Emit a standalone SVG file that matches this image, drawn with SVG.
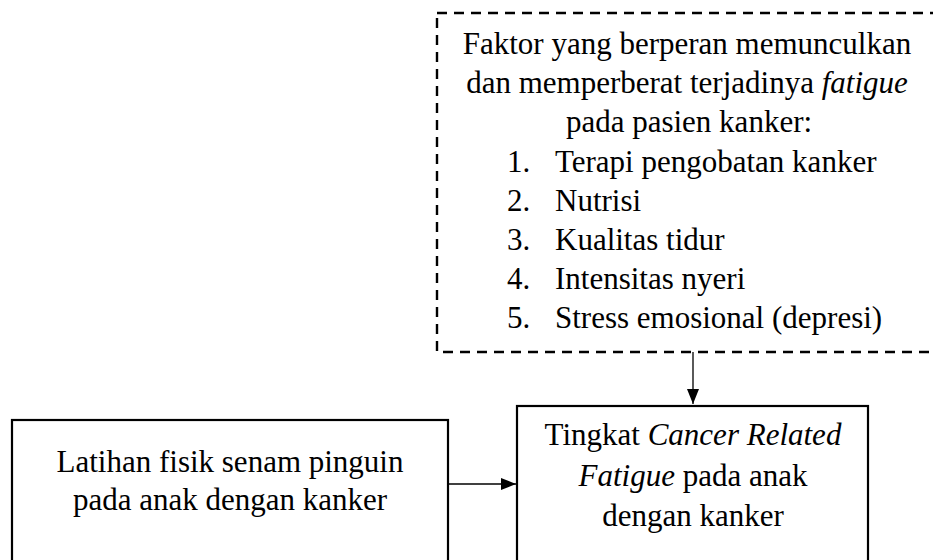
<svg xmlns="http://www.w3.org/2000/svg" width="933" height="560" viewBox="0 0 933 560">
<style>
.t{font-family:'Liberation Serif','Times New Roman',Tinos,'DejaVu Serif',serif;font-size:31px;fill:#000}
.c{text-anchor:middle}
.i{font-style:italic}
.box{fill:#fff;stroke:#000;stroke-width:2.2}
.dash{fill:#fff;stroke:#000;stroke-width:2.4;stroke-dasharray:10 7}
.conn{stroke:#000;stroke-width:1.3;fill:none}
</style>
<defs>
<marker id="arr" viewBox="0 0 10 10" refX="10" refY="5" markerWidth="15" markerHeight="12" markerUnits="userSpaceOnUse" orient="auto" preserveAspectRatio="none">
<path d="M0,0 L10,5 L0,10 Z" fill="#000"/>
</marker>
</defs>
<rect width="933" height="560" fill="#fff"/>
<g id="factors" font-family="Liberation Serif, serif">
<rect class="dash" x="437" y="13" width="510" height="339"/>
<text class="t c" x="687" y="54">Faktor yang berperan memunculkan</text>
<text class="t c" x="687" y="93">dan memperberat terjadinya <tspan class="i">fatigue</tspan></text>
<text class="t c" x="689" y="132">pada pasien kanker:</text>
<text class="t" x="507" y="172">1.</text><text class="t" x="555" y="172">Terapi pengobatan kanker</text>
<text class="t" x="507" y="211">2.</text><text class="t" x="555" y="211">Nutrisi</text>
<text class="t" x="507" y="250">3.</text><text class="t" x="555" y="250">Kualitas tidur</text>
<text class="t" x="507" y="289">4.</text><text class="t" x="555" y="289">Intensitas nyeri</text>
<text class="t" x="507" y="328">5.</text><text class="t" x="555" y="328">Stress emosional (depresi)</text>
</g>
<g id="exercise">
<rect class="box" x="12" y="420" width="436" height="160"/>
<text class="t c" x="230" y="472">Latihan fisik senam pinguin</text>
<text class="t c" x="230" y="510">pada anak dengan kanker</text>
</g>
<g id="fatigue">
<rect class="box" x="517" y="406" width="351" height="174"/>
<text class="t c" x="693" y="445">Tingkat <tspan class="i">Cancer Related</tspan></text>
<text class="t c" x="693" y="486"><tspan class="i">Fatigue</tspan> pada anak</text>
<text class="t c" x="693" y="526">dengan kanker</text>
</g>
<g id="connectors">
<line class="conn" x1="693" y1="352" x2="693" y2="404" marker-end="url(#arr)"/>
<line class="conn" x1="448" y1="484" x2="516" y2="484" marker-end="url(#arr)"/>
</g>
</svg>
